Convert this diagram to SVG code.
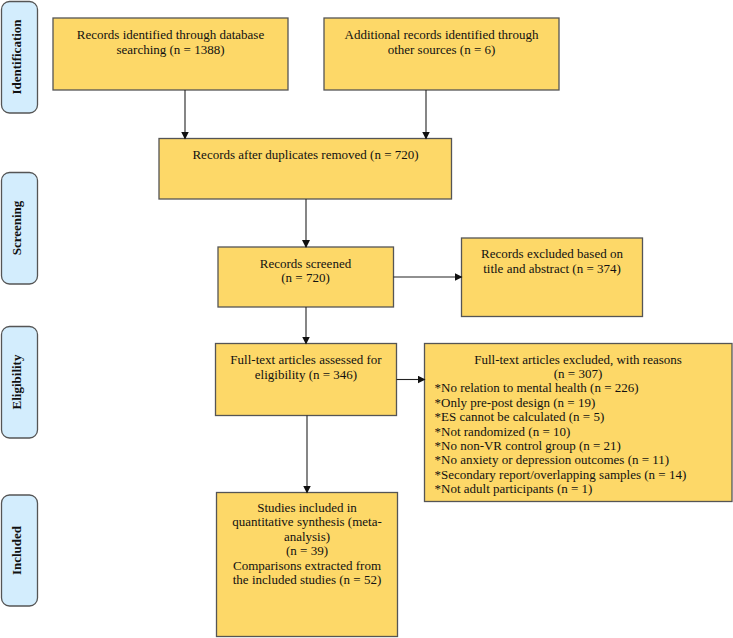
<svg xmlns="http://www.w3.org/2000/svg" width="733" height="638" viewBox="0 0 733 638">
<style>
.box{fill:#FDD868;stroke:#555;stroke-width:1.3}
.side{fill:#D3EDFD;stroke:#555;stroke-width:1.3}
text{font-family:"Liberation Serif","Times New Roman",serif;font-size:13px;fill:#111}
.c{text-anchor:middle}
.s{font-weight:bold;text-anchor:middle}
.con line{stroke:#222;stroke-width:1.1;marker-end:url(#ah)}
</style>
<defs>
<marker id="ah" markerWidth="8" markerHeight="8" refX="7" refY="4" orient="auto" markerUnits="userSpaceOnUse">
<path d="M0,0 L8,4 L0,8 Z" fill="#111"/>
</marker>
</defs>
<g id="lab-identification"><rect class="side" x="1.5" y="1.5" width="36" height="111.5" rx="8"/><text class="s" transform="translate(20.5,57) rotate(-90)">Identification</text></g>
<g id="lab-screening"><rect class="side" x="1.5" y="172.5" width="36" height="111.5" rx="8"/><text class="s" transform="translate(20.5,228) rotate(-90)">Screening</text></g>
<g id="lab-eligibility"><rect class="side" x="1.5" y="326.5" width="36" height="111.5" rx="8"/><text class="s" transform="translate(20.5,382) rotate(-90)">Eligibility</text></g>
<g id="lab-included"><rect class="side" x="1.5" y="495" width="36" height="111" rx="8"/><text class="s" transform="translate(20.5,550.5) rotate(-90)">Included</text></g>

<g id="n-db"><rect class="box" x="53" y="18" width="235" height="72"/><text class="c" x="170.5" y="39">Records identified through database</text><text class="c" x="170.5" y="53.5">searching (n = 1388)</text></g>
<g id="n-other"><rect class="box" x="324" y="18" width="235" height="72"/><text class="c" x="441.5" y="39">Additional records identified through</text><text class="c" x="441.5" y="53.5">other sources (n = 6)</text></g>
<g id="n-dup"><rect class="box" x="159" y="138.5" width="292.5" height="60.5"/><text class="c" x="305.5" y="159">Records after duplicates removed (n = 720)</text></g>
<g id="n-screened"><rect class="box" x="218" y="247" width="175.5" height="60"/><text class="c" x="305.5" y="267.5">Records screened</text><text class="c" x="305.5" y="282">(n = 720)</text></g>
<g id="n-excl1"><rect class="box" x="461.5" y="238" width="181" height="78.5"/><text class="c" x="552" y="258">Records excluded based on</text><text class="c" x="552" y="272.5">title and abstract (n = 374)</text></g>
<g id="n-full"><rect class="box" x="215.5" y="343.5" width="181" height="72"/><text class="c" x="306" y="364">Full-text articles assessed for</text><text class="c" x="306" y="378.5">eligibility (n = 346)</text></g>
<g id="n-excl2"><rect class="box" x="424.5" y="343.5" width="307.5" height="158"/>
<text class="c" x="578" y="363.5">Full-text articles excluded, with reasons</text>
<text class="c" x="578" y="378">(n = 307)</text>
<text x="434.5" y="392.4">*No relation to mental health (n = 226)</text>
<text x="434.5" y="406.8">*Only pre-post design (n = 19)</text>
<text x="434.5" y="421.2">*ES cannot be calculated (n = 5)</text>
<text x="434.5" y="435.6">*Not randomized (n = 10)</text>
<text x="434.5" y="450">*No non-VR control group (n = 21)</text>
<text x="434.5" y="464.4">*No anxiety or depression outcomes (n = 11)</text>
<text x="434.5" y="478.8">*Secondary report/overlapping samples (n = 14)</text>
<text x="434.5" y="493.2">*Not adult participants (n = 1)</text>
</g>
<g id="n-incl"><rect class="box" x="216.5" y="492.5" width="181" height="144"/>
<text class="c" x="307" y="512">Studies included in</text>
<text class="c" x="307" y="526.4">quantitative synthesis (meta-</text>
<text class="c" x="307" y="540.8">analysis)</text>
<text class="c" x="307" y="555.2">(n = 39)</text>
<text class="c" x="307" y="569.6">Comparisons extracted from</text>
<text class="c" x="307" y="584">the included studies (n = 52)</text>
</g>

<g id="connectors" class="con">
<line x1="185" y1="90" x2="185" y2="138.5"/>
<line x1="426" y1="90" x2="426" y2="138.5"/>
<line x1="306" y1="199" x2="306" y2="247"/>
<line x1="393.5" y1="277" x2="461.5" y2="277"/>
<line x1="306" y1="307" x2="306" y2="343.5"/>
<line x1="396.5" y1="379.5" x2="424.5" y2="379.5"/>
<line x1="307" y1="415.5" x2="307" y2="492.5"/>
</g>
</svg>
